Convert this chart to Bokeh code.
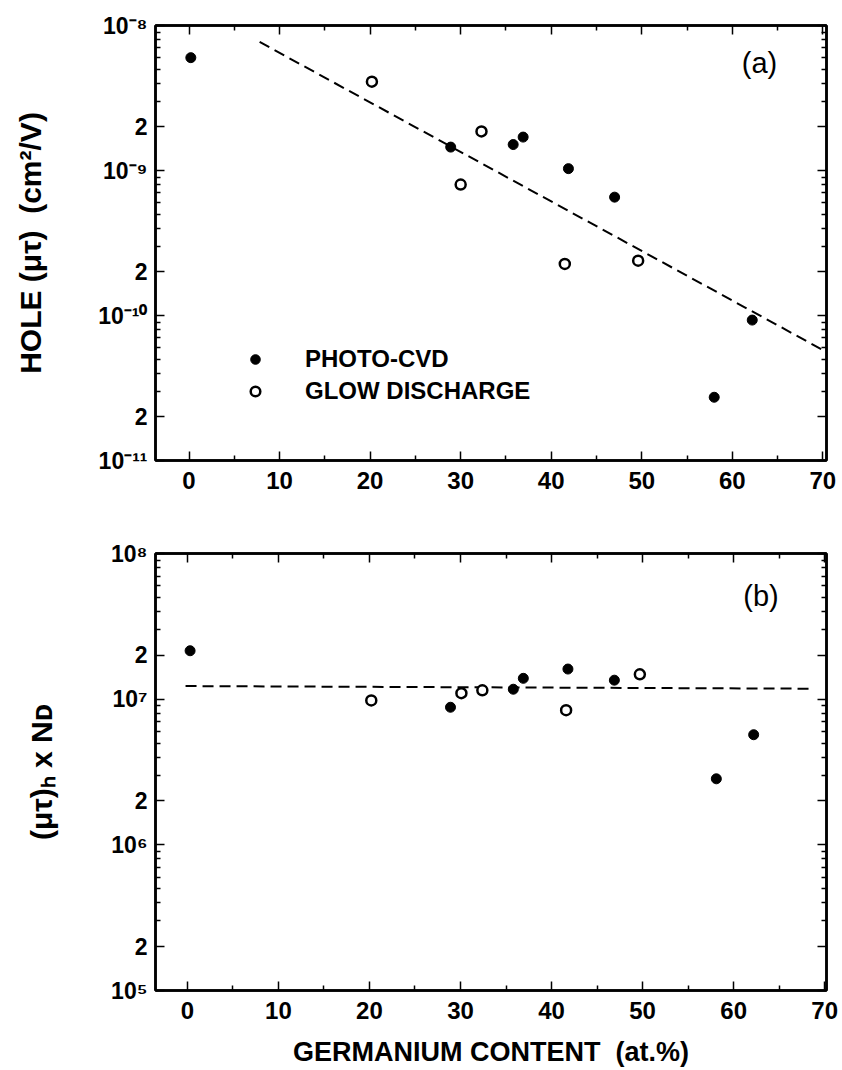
from bokeh.plotting import figure
from bokeh.models import (FixedTicker, LinearAxis, LogAxis, Range1d, Legend,
                          LegendItem, Label, CustomJSTickFormatter)
from bokeh.layouts import column
from bokeh.embed import file_html
from bokeh.resources import INLINE

FONT = "Liberation Sans"
SP = "\u00a0"

# ---------------- data ----------------
# panel (a): hole mu-tau product (cm^2/V) vs Ge content (at.%)
a_cvd_x = [0.2, 28.9, 35.8, 36.9, 41.9, 47.0, 58.0, 62.2]
a_cvd_y = [6.0e-9, 1.45e-9, 1.51e-9, 1.70e-9, 1.03e-9, 6.55e-10, 2.73e-11, 9.3e-11]
a_gd_x = [20.2, 30.0, 32.3, 41.5, 49.6]
a_gd_y = [4.1e-9, 8.0e-10, 1.86e-9, 2.27e-10, 2.39e-10]
a_fit_x = [7.8, 70.4]
a_fit_y = [7.7e-9, 5.6e-11]

# panel (b): (mu tau)_h x N_D vs Ge content
b_cvd_x = [0.3, 28.9, 35.8, 36.9, 41.8, 46.9, 58.1, 62.2]
b_cvd_y = [2.15e7, 8.8e6, 1.17e7, 1.39e7, 1.61e7, 1.35e7, 2.84e6, 5.7e6]
b_gd_x = [20.2, 30.1, 32.4, 41.6, 49.7]
b_gd_y = [9.8e6, 1.10e7, 1.15e7, 8.4e6, 1.48e7]
b_fit_x = [-0.2, 68.3]
b_fit_y = [1.23e7, 1.18e7]

# ticks
x_ticks = [0, 10, 20, 30, 40, 50, 60, 70]
x_minor = [5, 15, 25, 35, 45, 55, 65]
x_labels = ["0", "10", "20", "30", "40", "50", "60", "70"]

a_yticks = [1e-11, 2e-11, 1e-10, 2e-10, 1e-9, 2e-9, 1e-8]
a_ylabels = ["10\u207b\u00b9\u00b9", "2", "10\u207b\u00b9\u2070", "2",
             "10\u207b\u2079", "2", "10\u207b\u2078"]
b_yticks = [1e5, 2e5, 1e6, 2e6, 1e7, 2e7, 1e8]
b_ylabels = ["10\u2075", "2", "10\u2076", "2", "10\u2077", "2", "10\u2078"]

series_labels = ["PHOTO-CVD", "GLOW DISCHARGE"]
panel_tags = ["(a)", "(b)"]


def minor_log(lo_exp, hi_exp):
    out = []
    for e in range(lo_exp, hi_exp):
        for m in range(3, 10):
            out.append(m * 10.0 ** e)
    return out


def make_panel(xr, yr, yticks, ylabels, yminor, **kw):
    p = figure(width=842, y_axis_type="log", x_range=xr, y_range=yr,
               x_axis_location=None, y_axis_location=None,
               output_backend="svg", toolbar_location=None, **kw)
    xt = FixedTicker(ticks=x_ticks, minor_ticks=x_minor)
    yt = FixedTicker(ticks=yticks, minor_ticks=yminor)
    xa = LinearAxis(ticker=xt)
    ya = LogAxis(ticker=yt)
    xa.major_label_overrides = dict(zip(x_ticks, x_labels))
    ya.major_label_overrides = dict(zip(yticks, ylabels))
    blank = CustomJSTickFormatter(code="return '';")
    ta = LinearAxis(ticker=xt, formatter=blank, major_label_text_color=None,
                    major_label_text_alpha=0, major_label_text_font_size="2px")
    ra = LogAxis(ticker=yt, formatter=blank, major_label_text_color=None,
                 major_label_text_alpha=0, major_label_text_font_size="2px")
    p.add_layout(xa, "below")
    p.add_layout(ya, "left")
    p.add_layout(ta, "above")
    p.add_layout(ra, "right")
    for ax in (xa, ya, ta, ra):
        ax.axis_line_width = 2.5
        ax.axis_line_color = "black"
        ax.major_tick_in = 9
        ax.major_tick_out = 0
        ax.minor_tick_in = 5
        ax.minor_tick_out = 0
        ax.major_tick_line_width = 1.5
        ax.minor_tick_line_width = 1.5
        ax.major_tick_line_color = "black"
        ax.minor_tick_line_color = "black"
        ax.major_label_standoff = 0
    xa.major_label_text_font = FONT
    xa.major_label_text_font_style = "bold"
    xa.major_label_text_font_size = "24px"
    xa.major_label_text_color = "black"
    xa.major_label_standoff = 11
    ya.major_label_text_font = FONT
    ya.major_label_text_font_style = "bold"
    ya.major_label_text_font_size = "23px"
    ya.major_label_text_color = "black"
    ya.major_label_standoff = 8
    for ax in (xa, ya):
        ax.axis_label_text_font = FONT
        ax.axis_label_text_color = "black"
        ax.axis_label_text_font_style = "bold"
    ya.axis_label_text_font_size = "30px"
    xa.axis_label_text_font_size = "27px"
    p.grid.visible = False
    p.outline_line_color = "black"
    p.outline_line_width = 2.5
    p.background_fill_color = "white"
    p.border_fill_color = "white"
    return p, xa, ya


# ---------------- panel (a) ----------------
pa, pa_x, pa_y = make_panel(Range1d(-3.7, 70.4), Range1d(1e-11, 1e-8),
                            a_yticks, a_ylabels, minor_log(-11, -8),
                            height=505, min_border_left=155, min_border_right=12,
                            min_border_top=25, min_border_bottom=45)
pa_y.axis_label = "HOLE" + SP + "(\u03bc\u03c4)" + SP * 2 + "(cm\u00b2/V)"
pa_y.axis_label_standoff = 48

pa.line(a_fit_x, a_fit_y, line_color="black", line_width=2, line_dash="11 6")
ra_c = pa.scatter(a_cvd_x, a_cvd_y, size=10, marker="circle",
                  fill_color="black", line_color="black")
ra_g = pa.scatter(a_gd_x, a_gd_y, size=10, marker="circle",
                  fill_color="white", line_color="black", line_width=2.5)

leg = Legend(items=[LegendItem(label=series_labels[0], renderers=[ra_c]),
                    LegendItem(label=series_labels[1], renderers=[ra_g])],
             location=(88, 55), glyph_width=24, glyph_height=24,
             label_height=24, spacing=4, label_standoff=38, padding=0, margin=0,
             border_line_alpha=0, background_fill_alpha=0,
             label_text_font=FONT, label_text_font_style="bold",
             label_text_font_size="24px", label_text_color="black")
pa.add_layout(leg, "center")
pa.add_layout(Label(x=63.0, y=5.5e-9, text=panel_tags[0], text_font=FONT,
                    text_font_size="29px", text_align="center",
                    text_baseline="middle", text_color="black"))

# ---------------- panel (b) ----------------
pb, pb_x, pb_y = make_panel(Range1d(-3.5, 70.2), Range1d(1e5, 1e8),
                            b_yticks, b_ylabels, minor_log(5, 8),
                            height=565, min_border_left=150, min_border_right=16,
                            min_border_top=48, min_border_bottom=80)
pb_y.axis_label = "(\u03bc\u03c4)\u2095" + SP + "x" + SP + "N\u1d05"
pb_y.axis_label_standoff = 50
pb_x.axis_label = "GERMANIUM" + SP + "CONTENT" + SP * 2 + "(at.%)"
pb_x.axis_label_standoff = 15

pb.line(b_fit_x, b_fit_y, line_color="black", line_width=2, line_dash="11 6")
pb.scatter(b_cvd_x, b_cvd_y, size=10, marker="circle",
           fill_color="black", line_color="black")
pb.scatter(b_gd_x, b_gd_y, size=10, marker="circle",
           fill_color="white", line_color="black", line_width=2.5)
pb.add_layout(Label(x=63.0, y=5.1e7, text=panel_tags[1], text_font=FONT,
                    text_font_size="29px", text_align="center",
                    text_baseline="middle", text_color="black"))

layout = column(pa, pb, spacing=0)
open("out.html", "w").write(file_html(layout, INLINE))
